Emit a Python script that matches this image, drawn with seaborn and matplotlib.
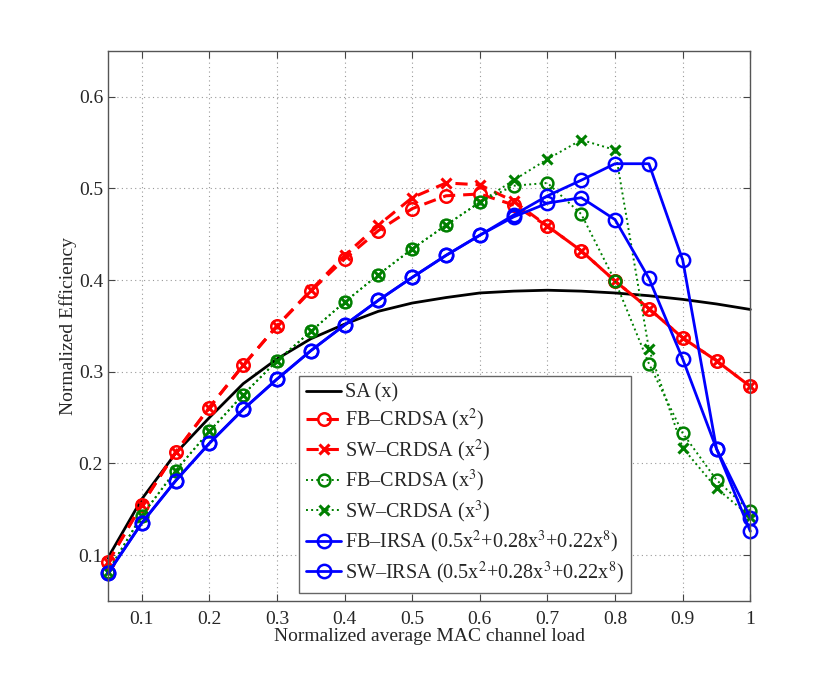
import numpy as np
import pandas as pd
import matplotlib
matplotlib.use("Agg")
import matplotlib.pyplot as plt
import seaborn as sns

# channel load values
load = [0.05, 0.1, 0.15, 0.2, 0.25, 0.3, 0.35, 0.4, 0.45, 0.5,
        0.55, 0.6, 0.65, 0.7, 0.75, 0.8, 0.85, 0.9, 0.95, 1.0]

sa = [0.097, 0.161, 0.211, 0.250, 0.287, 0.314, 0.336, 0.352, 0.366, 0.375,
      0.381, 0.386, 0.388, 0.389, 0.388, 0.386, 0.383, 0.379, 0.374, 0.368]

fb_crdsa2 = [0.092, 0.155, 0.212, 0.261, 0.307, 0.350, 0.388, 0.423, 0.454, 0.478,
             0.492, 0.494, 0.482, 0.459, 0.432, 0.399, 0.369, 0.337, 0.312, 0.284]
sw_crdsa2 = [0.092, 0.155, 0.212, 0.261, 0.307, 0.350, 0.389, 0.427, 0.460, 0.490,
             0.506, 0.504, 0.486, 0.459, 0.432, 0.399, 0.369, 0.337, 0.312, 0.284]

fb_crdsa3 = [0.082, 0.143, 0.192, 0.235, 0.275, 0.312, 0.344, 0.376, 0.406, 0.434,
             0.460, 0.485, 0.503, 0.506, 0.472, 0.399, 0.309, 0.233, 0.182, 0.148]
sw_crdsa3 = [0.082, 0.143, 0.192, 0.235, 0.275, 0.312, 0.344, 0.376, 0.406, 0.434,
             0.460, 0.485, 0.509, 0.532, 0.553, 0.542, 0.325, 0.217, 0.173, 0.142]

fb_irsa = [0.080, 0.135, 0.181, 0.222, 0.259, 0.292, 0.323, 0.351, 0.378, 0.403,
           0.427, 0.449, 0.469, 0.484, 0.490, 0.466, 0.402, 0.314, 0.216, 0.141]
sw_irsa = [0.080, 0.135, 0.181, 0.222, 0.259, 0.292, 0.323, 0.351, 0.378, 0.403,
           0.427, 0.449, 0.471, 0.492, 0.509, 0.527, 0.527, 0.422, 0.216, 0.126]

x_ticks = [0.1, 0.2, 0.3, 0.4, 0.5, 0.6, 0.7, 0.8, 0.9, 1.0]
x_tick_labels = ["0.1", "0.2", "0.3", "0.4", "0.5", "0.6", "0.7", "0.8", "0.9", "1"]
y_ticks = [0.1, 0.2, 0.3, 0.4, 0.5, 0.6]
y_tick_labels = ["0.1", "0.2", "0.3", "0.4", "0.5", "0.6"]

sns.set_style("ticks")
plt.rcParams["font.family"] = ["Liberation Serif", "DejaVu Serif"]
plt.rcParams["mathtext.fontset"] = "stix"

fig = plt.figure(figsize=(8.3, 6.76), dpi=100)
ax = fig.add_axes([0.130, 0.111, 0.774, 0.8136])

green = "#008000"


def circle(c, size=9):
    return dict(marker="o", markersize=size, markerfacecolor="none",
                markeredgecolor=c, markeredgewidth=1.8)


def cross(c):
    return dict(marker="x", markersize=6.5, markeredgecolor=c, markeredgewidth=2.2)


series = [
    (sa, "SA (x)", dict(color="black", linestyle="-", linewidth=2.0)),
    (fb_crdsa2, "FB\u2013CRDSA (x$^2$)",
     dict(color="red", linestyle=(0, (4, 2.6)), linewidth=2.2, **circle("red"))),
    (sw_crdsa2, "SW\u2013CRDSA (x$^2$)",
     dict(color="red", linestyle=(0, (4, 2.6)), linewidth=2.2, **cross("red"))),
    (fb_crdsa3, "FB\u2013CRDSA (x$^3$)",
     dict(color=green, linestyle=":", linewidth=1.4, **circle(green, 8.5))),
    (sw_crdsa3, "SW\u2013CRDSA (x$^3$)",
     dict(color=green, linestyle=":", linewidth=1.4, **cross(green))),
    (fb_irsa, "FB\u2013IRSA (0.5x$^2$+0.28x$^3$+0.22x$^8$)",
     dict(color="blue", linestyle="-", linewidth=2.0, **circle("blue", 9.6))),
    (sw_irsa, "SW\u2013IRSA (0.5x$^2$+0.28x$^3$+0.22x$^8$)",
     dict(color="blue", linestyle="-", linewidth=2.0, **circle("blue", 9.6))),
]

for values, label, style in series:
    sns.lineplot(x=load, y=values, ax=ax, label=label, clip_on=False, **style)

ax.set_xlim(0.05, 1.0)
ax.set_ylim(0.05, 0.65)
ax.set_xticks(x_ticks)
ax.set_xticklabels(x_tick_labels)
ax.set_yticks(y_ticks)
ax.set_yticklabels(y_tick_labels)
ax.tick_params(direction="in", top=True, right=True, labelsize=14,
               length=5, width=0.8, color="#444444")
ax.tick_params(axis="x", pad=7)
ax.grid(True, linestyle=(0, (1, 3)), color="#999999", linewidth=0.8)
for s in ax.spines.values():
    s.set_visible(True)
    s.set_color("#555555")
    s.set_linewidth(1.0)

ax.set_xlabel("Normalized average MAC channel load", fontsize=14, labelpad=0)
ax.set_ylabel("Normalized Efficiency", fontsize=14, labelpad=1)

leg = ax.legend(loc="lower left", bbox_to_anchor=(0.2975, 0.0145), fontsize=14.5,
                frameon=True, fancybox=False, framealpha=1, edgecolor="#666666",
                handlelength=1.75, handletextpad=0.2, labelspacing=0.22,
                borderpad=0.35, borderaxespad=0)
leg.get_frame().set_linewidth(1.0)
leg.set_zorder(5)

fig.savefig("out.png", dpi=100)
